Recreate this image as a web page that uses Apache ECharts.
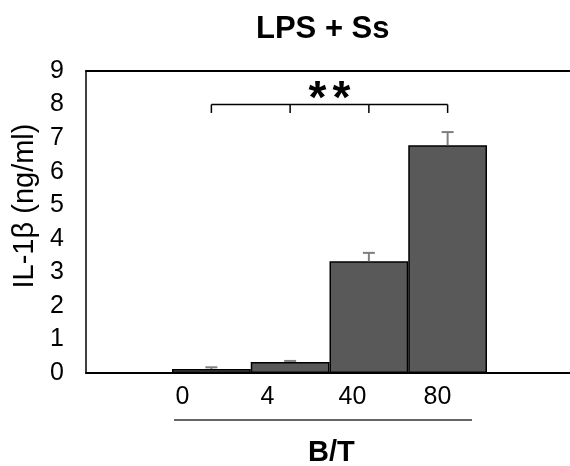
<!DOCTYPE html>
<html>
<head>
<meta charset="utf-8">
<script src="https://cdn.jsdelivr.net/npm/echarts@6/dist/echarts.min.js"></script>
<style>
  html, body { margin: 0; padding: 0; background: #fff; }
  #main { width: 570px; height: 466px; }
</style>
</head>
<body>
<div id="main"></div>
<script>
// data
const doses = ['0', '4', '40', '80']
const il1b = [0.12, 0.33, 3.33, 6.79]
const il1bErr = [0.05, 0.03, 0.25, 0.39]
const bracketLevel = 8.0
const bracketTickEnd = 7.75
const sigLevel = 8.12
const sigMark = '**'

const font = 'Liberation Sans, Arial, sans-serif'
const chart = echarts.init(document.getElementById('main'))

const hiddenAxis = {
  axisLine: { show: false }, axisTick: { show: false },
  axisLabel: { show: false }, splitLine: { show: false }
}

const option = {
  animation: false,
  textStyle: { fontFamily: font, color: '#000' },
  title: [
    { text: 'LPS + Ss', left: 251, top: 9,
      textStyle: { fontFamily: font, fontSize: 31, fontWeight: 'bold', color: '#000' } },
    { text: 'B/T', left: 303, top: 433,
      textStyle: { fontFamily: font, fontSize: 29, fontWeight: 'bold', color: '#000' } }
  ],
  grid: [
    { left: 86, right: 0, top: 71, bottom: 93 },     // frame
    { left: 172, width: 315, top: 71, bottom: 93 },  // bars
    { left: 140, width: 340, top: 372, height: 1 }   // dose labels
  ],
  xAxis: [
    { type: 'category', gridIndex: 0, data: [''], ...hiddenAxis,
      axisLine: { show: true, lineStyle: { color: '#000', width: 2 } } },
    { type: 'category', gridIndex: 0, position: 'top', data: [''], ...hiddenAxis,
      axisLine: { show: true, lineStyle: { color: '#000', width: 2 } } },
    { type: 'category', gridIndex: 1, data: doses, ...hiddenAxis },
    { type: 'category', gridIndex: 2, data: doses, ...hiddenAxis,
      axisLabel: { show: true, fontSize: 25, margin: 12, color: '#000', fontFamily: font } }
  ],
  yAxis: [
    { type: 'value', gridIndex: 0, min: 0, max: 9, interval: 1,
      name: 'IL-1β (ng/ml)', nameLocation: 'middle', nameGap: 44,
      nameTextStyle: { fontSize: 29, color: '#000', fontFamily: font, padding: [0, 0, 0, 32] },
      axisLine: { show: true, lineStyle: { color: '#000', width: 1.5 } },
      axisTick: { show: false }, splitLine: { show: false },
      axisLabel: { fontSize: 25, color: '#000', margin: 22, fontFamily: font } },
    { type: 'value', gridIndex: 1, min: 0, max: 9, ...hiddenAxis },
    { type: 'value', gridIndex: 2, min: 0, max: 1, ...hiddenAxis }
  ],
  series: [
    {
      type: 'bar', xAxisIndex: 2, yAxisIndex: 1,
      data: il1b, barWidth: '100%',
      itemStyle: { color: '#595959', borderColor: '#000', borderWidth: 1.5 }
    },
    {
      // upper error bars
      type: 'custom', xAxisIndex: 2, yAxisIndex: 1,
      data: il1b.map((v, i) => [i, v, il1bErr[i]]),
      renderItem: function (params, api) {
        const base = api.coord([api.value(0), api.value(1)])
        const top = api.coord([api.value(0), api.value(1) + api.value(2)])
        const style = { stroke: '#7f7f7f', lineWidth: 2 }
        return {
          type: 'group',
          children: [
            { type: 'line', shape: { x1: base[0], y1: base[1], x2: top[0], y2: top[1] }, style },
            { type: 'line', shape: { x1: top[0] - 6, y1: top[1], x2: top[0] + 6, y2: top[1] }, style }
          ]
        }
      },
      z: 3
    },
    {
      // significance bracket
      type: 'custom', xAxisIndex: 2, yAxisIndex: 1,
      data: doses.map((d, i) => [i, bracketLevel]),
      renderItem: function (params, api) {
        const i = api.value(0)
        const p = api.coord([i, bracketLevel])
        const q = api.coord([i, bracketTickEnd])
        const style = { stroke: '#000', lineWidth: 1.5 }
        const kids = [{ type: 'line', shape: { x1: p[0], y1: p[1], x2: q[0], y2: q[1] }, style }]
        if (i < doses.length - 1) {
          const n = api.coord([i + 1, bracketLevel])
          kids.push({ type: 'line', shape: { x1: p[0], y1: p[1], x2: n[0], y2: n[1] }, style })
        }
        if (i === 1) {
          const m = api.coord([i, sigLevel])
          const n = api.coord([i + 1, sigLevel])
          const cx = (m[0] + n[0]) / 2
          const chars = sigMark.split('')
          chars.forEach((c, k) => {
            kids.push({ type: 'text', style: { text: c, x: cx + (k - (chars.length - 1) / 2) * 24, y: m[1],
              align: 'center', verticalAlign: 'middle', fontSize: 46, fontWeight: 'bold',
              fontFamily: font, fill: '#000' } })
          })
        }
        return { type: 'group', children: kids }
      }
    }
  ],
  graphic: [
    { type: 'line', shape: { x1: 174, y1: 420, x2: 472, y2: 420 },
      style: { stroke: '#333', lineWidth: 1.5 } }
  ]
}

chart.setOption(option)
</script>
</body>
</html>
